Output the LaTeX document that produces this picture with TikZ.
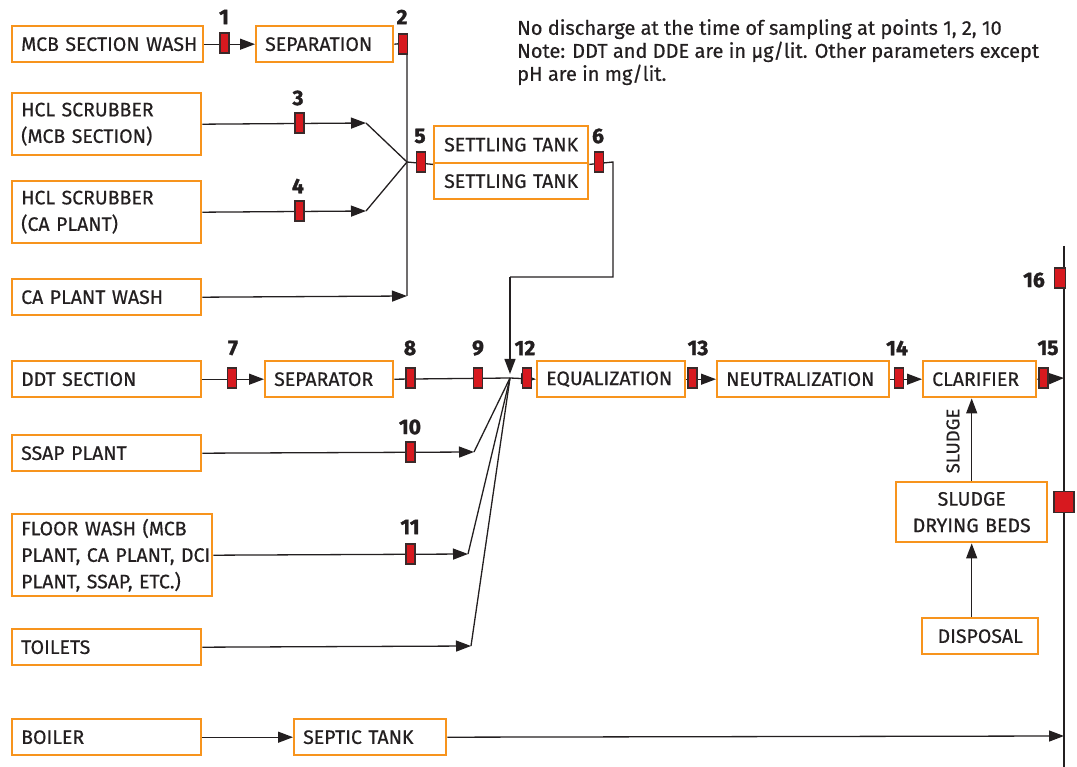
\documentclass[tikz,border=0pt]{standalone}
\usepackage{fontspec}
\setmainfont{Fira Sans}[FakeBold=0.5]
\newfontfamily\numfam{Fira Sans}[FakeBold=1.6]
\usetikzlibrary{arrows.meta}
\definecolor{orng}{HTML}{F7941D}
\definecolor{ink}{HTML}{231F20}
\definecolor{mkred}{HTML}{D7191F}
\definecolor{mkedge}{HTML}{3A2A2A}
\begin{document}
\begin{tikzpicture}[x=1pt,y=-1pt,
  box/.style={draw=orng, line width=2.4pt, fill=white, anchor=north west,
    inner xsep=9pt, inner ysep=0pt, align=left, text=ink,
    font=\fontsize{19.5}{26.5}\selectfont},
  line/.style={draw=ink, line width=1.3pt},
  arr/.style={line, -{Triangle[length=15pt,width=11pt]}},
  probe/.style={draw=mkedge, fill=mkred, line width=1.1pt, minimum width=9pt,
    minimum height=20pt, inner sep=0pt},
  num/.style={text=ink, inner sep=0pt, font=\numfam\fontsize{21}{21}\selectfont\bfseries},
  note/.style={text=ink, inner sep=0pt, anchor=north west, align=left,
    font=\fontsize{20}{23}\selectfont}]
\useasboundingbox (0,0) rectangle (1077,767);

% ---- source and process boxes ----
\node[box, text width=173pt, minimum height=36pt] (mcb)  at (11,25)  {\mbox{MCB SECTION WASH}};
\node[box, text width=119pt, minimum height=36pt] (sepn) at (255,25) {SEPARATION};
\node[box, text width=171pt, minimum height=62pt] (hcla) at (11,92)  {HCL SCRUBBER\\(MCB SECTION)};
\node[box, text width=171pt, minimum height=62pt] (hclb) at (11,180) {HCL SCRUBBER\\(CA PLANT)};
\node[box, text width=171pt, minimum height=36pt] (capw) at (11,278) {CA PLANT WASH};
\node[box, text width=134pt, minimum height=37pt, inner xsep=10pt] (sta) at (433,125) {\mbox{SETTLING TANK}};
\node[box, text width=134pt, minimum height=36pt, inner xsep=10pt] (stb) at (433,162) {\mbox{SETTLING TANK}};
\node[box, text width=171pt, minimum height=36pt] (ddt)  at (11,360) {DDT SECTION};
\node[box, text width=110pt, minimum height=36pt] (sepr) at (264,360) {SEPARATOR};
\node[box, text width=130pt, minimum height=36pt] (equ)  at (536,360) {EQUALIZATION};
\node[box, text width=154pt, minimum height=36pt] (neu)  at (716,360) {NEUTRALIZATION};
\node[box, text width=95pt,  minimum height=36pt] (cla)  at (922,360) {CLARIFIER};
\node[box, text width=171pt, minimum height=36pt] (ssap) at (11,434) {SSAP PLANT};
\node[box, text width=182pt, minimum height=82pt] (flr)  at (11,513) {\mbox{FLOOR WASH (MCB}\\\mbox{PLANT, CA PLANT, DCI}\\\mbox{PLANT, SSAP, ETC.)}};
\node[box, text width=171pt, minimum height=36pt] (toi)  at (11,628) {TOILETS};
\node[box, text width=133pt, minimum height=60pt, align=center] (sdb) at (895,481) {SLUDGE\\DRYING BEDS};
\node[box, text width=98pt,  minimum height=36pt, align=center] (dis) at (921,617) {DISPOSAL};
\node[box, text width=171pt, minimum height=36pt] (boi)  at (11,718) {BOILER};
\node[box, text width=134pt, minimum height=36pt] (sep)  at (293,718) {\mbox{SEPTIC TANK}};

% ---- junction and bend points ----
\coordinate (ha) at (366,123);
\coordinate (hb) at (366,211);
\coordinate (jA) at (407,162);
\coordinate (topA) at (407,43);
\coordinate (botA) at (407,296);
\coordinate (c1) at (613,162);
\coordinate (c2) at (613,277);
\coordinate (c3) at (510,277);
\coordinate (jB) at (510,378);
\coordinate (jBtip) at (510,374);
\coordinate (fs) at (474,452);
\coordinate (ff) at (468,554);
\coordinate (ft) at (471,646);
\coordinate (out) at (1064,378);
\coordinate (rtop) at (1064,246);
\coordinate (rbot) at (1064,767);
\coordinate (rsep) at (1064,736);

% ---- connectors ----
\draw[arr] (mcb.east) -- (sepn.west);
\draw[line] (sepn.east) -- (topA) -- (botA);
\draw[arr] (hcla.east) -- (ha);
\draw[line] (ha) -- (jA);
\draw[arr] (hclb.east) -- (hb);
\draw[line] (hb) -- (jA);
\draw[arr] (capw.east) -- (botA);
\draw[line] (jA) -- (sta.south west);
\draw[line] (sta.south east) -- (c1) -- (c2) -- (c3);
\draw[arr] (c3) -- (jBtip);
\draw[arr] (ddt.east) -- (sepr.west);
\draw[line] (sepr.east) -- (jB);
\draw[arr] (jB) -- (equ.west);
\draw[arr] (equ.east) -- (neu.west);
\draw[arr] (neu.east) -- (cla.west);
\draw[arr] (cla.east) -- (out);
\draw[arr] (ssap.east) -- (fs);
\draw[line] (fs) -- (jB);
\draw[arr] (flr.east) -- (ff);
\draw[line] (ff) -- (jB);
\draw[arr] (toi.east) -- (ft);
\draw[line] (ft) -- (jB);
\draw[arr] (sdb.north) -- (sdb.north |- cla.south);
\draw[arr] (sdb.south |- dis.north) -- (sdb.south);
\draw[arr] (boi.east) -- (sep.west);
\draw[arr] (sep.east) -- (rsep);
\draw[line] (rtop) -- (rbot);

\node[rotate=90, text=ink, inner sep=0pt, font=\fontsize{18.5}{18.5}\selectfont] (sludge) at (953,441) {SLUDGE};

% ---- sampling points ----
\node[probe] (p1)  at (224.5,43) {};
\node[probe] (p2)  at (403,44) {};
\node[probe] (p3)  at (299.5,123) {};
\node[probe] (p4)  at (299.5,211) {};
\node[probe] (p5)  at (421,162) {};
\node[probe] (p6)  at (599,162) {};
\node[probe] (p7)  at (232,378) {};
\node[probe] (p8)  at (410.5,378) {};
\node[probe] (p9)  at (478,378) {};
\node[probe] (p12) at (527,378) {};
\node[probe] (p13) at (692.5,378) {};
\node[probe] (p14) at (899,378) {};
\node[probe] (p15) at (1043.5,378) {};
\node[probe] (p10) at (410.5,452) {};
\node[probe] (p11) at (410.5,554) {};
\node[probe, minimum width=11pt] (p16) at (1060,278) {};
\node[probe, minimum width=20pt, minimum height=21pt] (p17) at (1064,502) {};

\node[num] (n1)  at (224,17)  {1};
\node[num] (n2)  at (402,17)  {2};
\node[num] (n3)  at (298,98)  {3};
\node[num] (n4)  at (298,186) {4};
\node[num] (n5)  at (420,136) {5};
\node[num] (n6)  at (598,136) {6};
\node[num] (n7)  at (233,348) {7};
\node[num] (n8)  at (410,348) {8};
\node[num] (n9)  at (478,348) {9};
\node[num] (n12) at (525,348) {12};
\node[num] (n13) at (698,348) {13};
\node[num] (n14) at (897,348) {14};
\node[num] (n15) at (1048,348) {15};
\node[num] (n10) at (410,427) {10};
\node[num] (n11) at (410,527) {11};
\node[num] (n16) at (1034,280) {16};

% ---- remarks ----
\node[note] (rem) at (517,19) {No discharge at the time of sampling at points 1, 2, 10\\
Note: DDT and DDE are in µg/lit. Other parameters except\\pH are in mg/lit.};
\end{tikzpicture}
\end{document}
